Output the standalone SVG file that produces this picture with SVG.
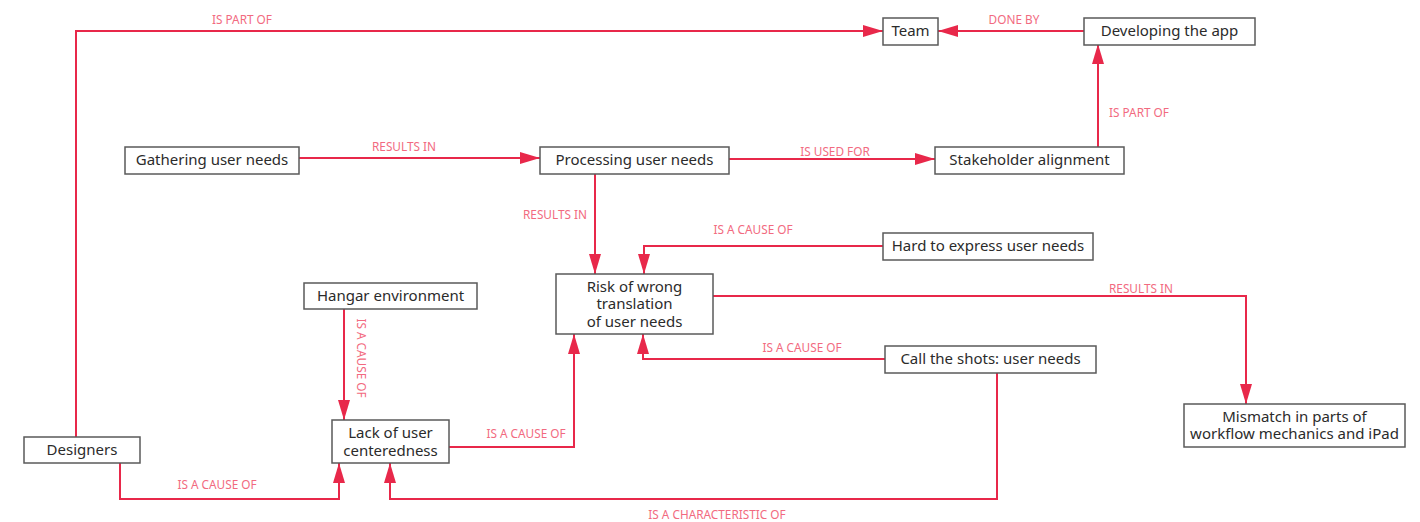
<svg xmlns="http://www.w3.org/2000/svg" width="1420" height="522" viewBox="0 0 1420 522">
<style>
.n rect{fill:#fff;stroke:#5a5a5a;stroke-width:1.5}
.n text{font-family:"Noto Sans","Open Sans",sans-serif;font-size:15px;fill:#2b2b2b;text-anchor:middle;dominant-baseline:central}
.c path{fill:none;stroke:#e8284a;stroke-width:2;marker-end:url(#ah)}
.c text{font-family:"Noto Sans","Open Sans",sans-serif;font-size:11.8px;fill:#f26a80;text-anchor:middle;dominant-baseline:central}
</style>
<defs>
<marker id="ah" markerUnits="userSpaceOnUse" markerWidth="22" markerHeight="14" refX="20" refY="6" orient="auto"><path d="M0,0 L20,6 L0,12 z" fill="#e8284a"/></marker>
</defs>
<rect width="1420" height="522" fill="#fff"/>
<g class="c" id="connectors">
<path d="M76,437 V31 H883"/><text x="242" y="19">IS PART OF</text>
<path d="M1084,31 H938"/><text x="1014" y="19">DONE BY</text>
<path d="M1098,147 V44"/><text x="1139" y="112">IS PART OF</text>
<path d="M299,158 H540"/><text x="404" y="146">RESULTS IN</text>
<path d="M729,159 H935"/><text x="835" y="151">IS USED FOR</text>
<path d="M595,174 V274"/><text x="555" y="214">RESULTS IN</text>
<path d="M883,246 H644 V274"/><text x="753" y="229">IS A CAUSE OF</text>
<path d="M885,359 H643 V334"/><text x="802" y="347">IS A CAUSE OF</text>
<path d="M713,296 H1246 V404"/><text x="1141" y="288">RESULTS IN</text>
<path d="M344,309 V420"/><text x="362" y="358" transform="rotate(90 362 358)">IS A CAUSE OF</text>
<path d="M449,447 H574 V334"/><text x="526" y="433">IS A CAUSE OF</text>
<path d="M120,463 V499 H339 V463"/><text x="217" y="484">IS A CAUSE OF</text>
<path d="M997,373 V499 H390 V463"/><text x="717" y="514">IS A CHARACTERISTIC OF</text>
</g>
<g class="n" id="team"><rect x="883" y="18" width="55" height="27"/><text x="910.5" y="30">Team</text></g>
<g class="n" id="developing"><rect x="1084" y="18" width="171" height="27"/><text x="1169.5" y="30">Developing the app</text></g>
<g class="n" id="gathering"><rect x="125" y="147" width="174" height="27"/><text x="212" y="159">Gathering user needs</text></g>
<g class="n" id="processing"><rect x="540" y="147" width="189" height="27"/><text x="634.5" y="159">Processing user needs</text></g>
<g class="n" id="stakeholder"><rect x="935" y="147" width="189" height="27"/><text x="1029.5" y="159">Stakeholder alignment</text></g>
<g class="n" id="hard"><rect x="883" y="233" width="210" height="27"/><text x="988" y="245">Hard to express user needs</text></g>
<g class="n" id="risk"><rect x="556" y="274" width="157" height="60"/><text x="634.5" y="285.5">Risk of wrong</text><text x="634.5" y="303">translation</text><text x="634.5" y="320.5">of user needs</text></g>
<g class="n" id="callshots"><rect x="885" y="346" width="211" height="27"/><text x="990.5" y="358">Call the shots: user needs</text></g>
<g class="n" id="hangar"><rect x="304" y="283" width="173" height="26"/><text x="390.5" y="295">Hangar environment</text></g>
<g class="n" id="lack"><rect x="332" y="420" width="117" height="43"/><text x="390.5" y="431.5">Lack of user</text><text x="390.5" y="449.5">centeredness</text></g>
<g class="n" id="designers"><rect x="24" y="437" width="116" height="26"/><text x="82" y="449">Designers</text></g>
<g class="n" id="mismatch"><rect x="1184" y="404" width="221" height="43"/><text x="1294.5" y="415.5">Mismatch in parts of</text><text x="1294.5" y="433">workflow mechanics and iPad</text></g>
</svg>
